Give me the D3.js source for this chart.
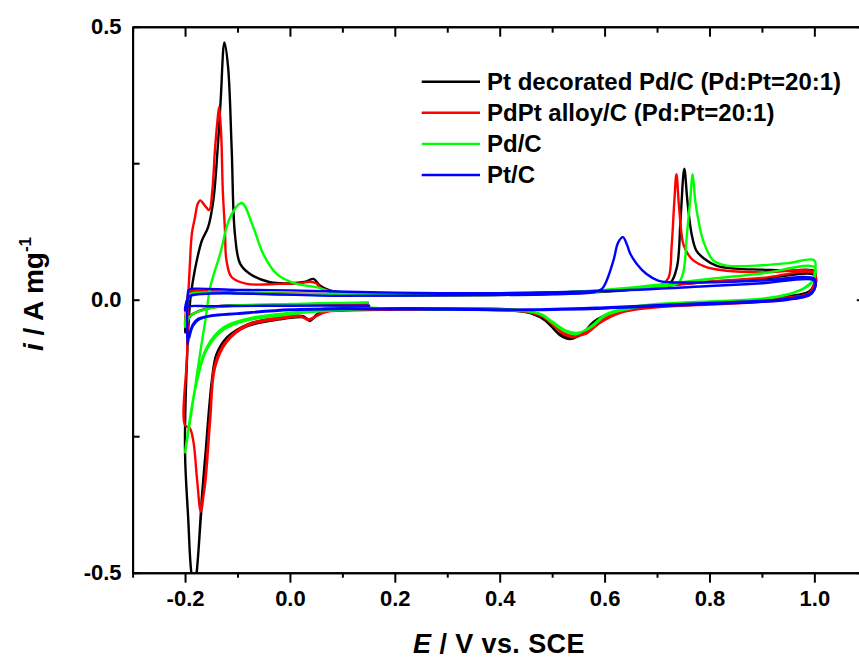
<!DOCTYPE html>
<html>
<head>
<meta charset="utf-8">
<script src="https://cdn.jsdelivr.net/npm/d3@7"></script>
<style>
  body { margin: 0; background: #fff; }
  svg { display: block; overflow: hidden; }
  text { font-family: "Liberation Sans", Arial, sans-serif; font-weight: bold; fill: #000; }
</style>
</head>
<body>
<div id="chart"></div>
<script>
// ---- data (E in V vs. SCE, i in A mg-1), each curve traced point by point ----
const xTicks = [-0.2, 0.0, 0.2, 0.4, 0.6, 0.8, 1.0];
const xMinorTicks = [-0.3, -0.1, 0.1, 0.3, 0.5, 0.7, 0.9];
const yTicks = [-0.5, 0.0, 0.5];
const yMinorTicks = [-0.25, 0.25];

const seriesNames = [
  "Pt decorated Pd/C (Pd:Pt=20:1)",
  "PdPt alloy/C (Pd:Pt=20:1)",
  "Pd/C",
  "Pt/C",
];

const ptDecoratedPdC = [
  [0.15, -0.006], [0.05, -0.008], [-0.05, -0.01], [-0.15, -0.014], [-0.19, -0.03], [-0.2, -0.06],
  [-0.197, -0.02], [-0.193, 0.01], [-0.185, 0.014], [-0.1, 0.012], [0.0, 0.01], [0.2, 0.008],
  [0.4, 0.009], [0.55, 0.012], [0.65, 0.018], [0.7, 0.024], [0.725, 0.03], [0.738, 0.06],
  [0.745, 0.15], [0.752, 0.24], [0.758, 0.18], [0.766, 0.12], [0.775, 0.09], [0.79, 0.075],
  [0.814, 0.062], [0.85, 0.057], [0.9, 0.055], [0.95, 0.053], [1.0, 0.052],
  [1.0, 0.03], [0.99, 0.015], [0.95, 0.006], [0.9, 0.0], [0.8, -0.005], [0.7, -0.01],
  [0.62, -0.022], [0.58, -0.04], [0.56, -0.06], [0.535, -0.072], [0.515, -0.065], [0.5, -0.05],
  [0.48, -0.033], [0.46, -0.024], [0.42, -0.018], [0.3, -0.016], [0.15, -0.016], [0.07, -0.018],
  [0.05, -0.028], [0.038, -0.039], [0.025, -0.03], [-0.02, -0.033], [-0.08, -0.045],
  [-0.12, -0.069], [-0.14, -0.1], [-0.149, -0.149], [-0.159, -0.259], [-0.168, -0.363],
  [-0.176, -0.48], [-0.182, -0.53], [-0.188, -0.5], [-0.194, -0.4], [-0.2, -0.28],
  [-0.196, -0.1], [-0.19, 0.0], [-0.184, 0.04], [-0.178, 0.07], [-0.168, 0.108], [-0.156, 0.133],
  [-0.146, 0.182], [-0.138, 0.274], [-0.132, 0.366], [-0.125, 0.471], [-0.118, 0.427],
  [-0.111, 0.274], [-0.105, 0.121], [-0.095, 0.066], [-0.076, 0.047], [-0.038, 0.032],
  [0.0, 0.03], [0.03, 0.033], [0.045, 0.038], [0.057, 0.026], [0.076, 0.017], [0.12, 0.012],
  [0.3, 0.01], [0.5, 0.013], [0.6, 0.017], [0.7, 0.024], [0.8, 0.033], [0.9, 0.038], [1.0, 0.045],
  [1.0, 0.02], [0.985, 0.008], [0.9, -0.003], [0.8, -0.007], [0.7, -0.012], [0.62, -0.024],
  [0.58, -0.043], [0.555, -0.062], [0.53, -0.068], [0.51, -0.06], [0.49, -0.04], [0.46, -0.025],
  [0.42, -0.02], [0.3, -0.018], [0.15, -0.018], [0.07, -0.021], [0.05, -0.03], [0.04, -0.037],
  [0.025, -0.032], [-0.02, -0.036], [-0.08, -0.048], [-0.12, -0.072], [-0.14, -0.105],
  [-0.15, -0.16], [-0.16, -0.27], [-0.17, -0.4], [-0.178, -0.5], [-0.183, -0.53],
];

const pdPtAlloyC = [
  [0.15, -0.008], [0.0, -0.01], [-0.15, -0.015], [-0.19, -0.03], [-0.2, -0.05],
  [-0.197, -0.01], [-0.193, 0.012], [-0.185, 0.016], [-0.1, 0.013], [0.1, 0.01], [0.3, 0.008],
  [0.5, 0.011], [0.6, 0.016], [0.68, 0.022], [0.71, 0.028], [0.722, 0.04], [0.728, 0.1],
  [0.733, 0.18], [0.737, 0.23], [0.742, 0.17], [0.75, 0.102], [0.76, 0.082], [0.769, 0.072],
  [0.795, 0.059], [0.833, 0.053], [0.9, 0.05], [1.0, 0.05],
  [1.0, 0.03], [0.99, 0.012], [0.95, 0.004], [0.9, -0.002], [0.8, -0.007], [0.7, -0.012],
  [0.63, -0.022], [0.59, -0.04], [0.565, -0.06], [0.54, -0.069], [0.52, -0.062], [0.5, -0.045],
  [0.48, -0.03], [0.46, -0.022], [0.42, -0.018], [0.3, -0.016], [0.15, -0.017], [0.07, -0.02],
  [0.05, -0.03], [0.035, -0.037], [0.02, -0.03], [-0.02, -0.033], [-0.08, -0.045],
  [-0.121, -0.075], [-0.143, -0.118], [-0.152, -0.21], [-0.162, -0.333], [-0.17, -0.388],
  [-0.177, -0.33], [-0.184, -0.26], [-0.191, -0.235], [-0.2, -0.23],
  [-0.196, -0.1], [-0.194, 0.0], [-0.191, 0.06], [-0.187, 0.121], [-0.181, 0.151],
  [-0.176, 0.175], [-0.171, 0.182], [-0.162, 0.172], [-0.154, 0.164], [-0.148, 0.2],
  [-0.143, 0.274], [-0.138, 0.33], [-0.135, 0.353], [-0.131, 0.3], [-0.128, 0.2],
  [-0.124, 0.13], [-0.121, 0.072], [-0.111, 0.041], [-0.082, 0.029], [-0.019, 0.029],
  [0.02, 0.03], [0.038, 0.033], [0.05, 0.03], [0.057, 0.023], [0.08, 0.015], [0.12, 0.012],
  [0.3, 0.01], [0.5, 0.013], [0.6, 0.017], [0.7, 0.025], [0.8, 0.033], [0.9, 0.04], [1.0, 0.048],
  [1.0, 0.022], [0.985, 0.008], [0.9, -0.004], [0.8, -0.009], [0.7, -0.014], [0.63, -0.024],
  [0.59, -0.043], [0.565, -0.062], [0.54, -0.066], [0.52, -0.06], [0.5, -0.043], [0.48, -0.03],
  [0.45, -0.022], [0.3, -0.018], [0.15, -0.019], [0.07, -0.022], [0.05, -0.03], [0.035, -0.036],
  [0.02, -0.031], [-0.02, -0.035], [-0.08, -0.047], [-0.121, -0.078], [-0.143, -0.125],
  [-0.152, -0.22], [-0.162, -0.34], [-0.17, -0.385],
];

const pdC = [
  [0.15, -0.005], [0.0, -0.008], [-0.15, -0.015], [-0.19, -0.03], [-0.2, -0.05],
  [-0.197, -0.02], [-0.192, 0.008], [-0.185, 0.012], [-0.1, 0.012], [0.1, 0.01], [0.3, 0.008],
  [0.5, 0.011], [0.6, 0.016], [0.7, 0.024], [0.74, 0.03], [0.75, 0.05], [0.757, 0.12],
  [0.763, 0.18], [0.768, 0.23], [0.773, 0.18], [0.78, 0.14], [0.788, 0.108], [0.807, 0.072],
  [0.833, 0.0625], [0.9, 0.063], [0.95, 0.067], [1.0, 0.072],
  [1.0, 0.045], [0.995, 0.032], [0.98, 0.02], [0.95, 0.01], [0.9, 0.002], [0.8, -0.003],
  [0.7, -0.008], [0.64, -0.016], [0.6, -0.028], [0.575, -0.048], [0.547, -0.063],
  [0.525, -0.058], [0.5, -0.042], [0.48, -0.028], [0.45, -0.02], [0.4, -0.017], [0.2, -0.017],
  [0.089, -0.012], [0.045, -0.02], [-0.019, -0.026], [-0.082, -0.035], [-0.127, -0.051],
  [-0.159, -0.088], [-0.178, -0.149], [-0.197, -0.259], [-0.2, -0.28],
  [-0.19, -0.22], [-0.18, -0.155], [-0.17, -0.09], [-0.16, -0.03], [-0.152, 0.023],
  [-0.133, 0.084], [-0.114, 0.151], [-0.092, 0.177], [-0.07, 0.133], [-0.051, 0.084],
  [-0.025, 0.047], [0.013, 0.029], [0.051, 0.023], [0.083, 0.013], [0.15, 0.01], [0.3, 0.01],
  [0.5, 0.013], [0.6, 0.018], [0.7, 0.027], [0.8, 0.038], [0.9, 0.048], [1.0, 0.06],
  [1.0, 0.04], [0.99, 0.028], [0.97, 0.016], [0.9, 0.0], [0.8, -0.005], [0.7, -0.01],
  [0.64, -0.018], [0.6, -0.03], [0.575, -0.05], [0.547, -0.061], [0.525, -0.056], [0.5, -0.04],
  [0.48, -0.027], [0.45, -0.021], [0.3, -0.018], [0.15, -0.017], [0.045, -0.022],
  [-0.019, -0.029], [-0.082, -0.038], [-0.127, -0.055], [-0.159, -0.092], [-0.178, -0.152],
  [-0.197, -0.262],
];

const ptC = [
  [0.153, -0.011], [0.0, -0.011], [-0.15, -0.012], [-0.195, -0.013], [-0.2, -0.02],
  [-0.196, 0.0], [-0.19, 0.007], [0.1, 0.007], [0.3, 0.008], [0.5, 0.01], [0.58, 0.014],
  [0.595, 0.02], [0.604, 0.035], [0.617, 0.072], [0.626, 0.105], [0.635, 0.1145], [0.643, 0.1],
  [0.649, 0.084], [0.661, 0.066], [0.68, 0.047], [0.702, 0.035], [0.725, 0.032], [0.8, 0.032],
  [0.9, 0.035], [1.0, 0.038],
  [1.0, 0.02], [0.99, 0.01], [0.95, 0.002], [0.9, -0.002], [0.8, -0.006], [0.6, -0.014],
  [0.45, -0.018], [0.3, -0.017], [0.1, -0.016], [0.0, -0.018], [-0.1, -0.025], [-0.15, -0.029],
  [-0.175, -0.035], [-0.185, -0.045], [-0.192, -0.065], [-0.195, -0.081],
  [-0.196, -0.05], [-0.195, 0.0], [-0.193, 0.018], [-0.185, 0.02], [-0.1, 0.018], [0.0, 0.017],
  [0.2, 0.013], [0.4, 0.012], [0.6, 0.016], [0.8, 0.025], [0.9, 0.03], [1.0, 0.035],
  [1.0, 0.018], [0.99, 0.008], [0.95, 0.0], [0.9, -0.004], [0.8, -0.008], [0.6, -0.016],
  [0.45, -0.019], [0.3, -0.018], [0.1, -0.017], [0.0, -0.019], [-0.1, -0.026], [-0.15, -0.03],
  [-0.175, -0.037], [-0.185, -0.048], [-0.192, -0.07],
];

const seriesData = [ptDecoratedPdC, pdPtAlloyC, pdC, ptC];
const seriesColors = ["#000000", "#ff0000", "#00ff00", "#0000ff"];

// ---- layout ----
const chartWidth = 859;
const chartHeight = 662;
const plot = { left: 132.6, right: 866.8, top: 26.7, bottom: 572.7 };

const svg = d3
  .select("#chart")
  .append("svg")
  .attr("width", chartWidth)
  .attr("height", chartHeight);

// scales
const x = d3.scaleLinear().domain([-0.3, 1.1]).range([plot.left, plot.right]);
const y = d3.scaleLinear().domain([-0.5, 0.5]).range([plot.bottom, plot.top]);

const fmt = (d) => d.toFixed(1);

// clip for the curves
svg
  .append("defs")
  .append("clipPath")
  .attr("id", "plot-clip")
  .append("rect")
  .attr("x", plot.left)
  .attr("y", plot.top)
  .attr("width", plot.right - plot.left)
  .attr("height", plot.bottom - plot.top);

// curves
const line = d3
  .line()
  .x((d) => x(d[0]))
  .y((d) => y(d[1]))
  .curve(d3.curveCatmullRom.alpha(0.5));

svg
  .append("g")
  .attr("clip-path", "url(#plot-clip)")
  .selectAll("path")
  .data(seriesData)
  .enter()
  .append("path")
  .attr("d", line)
  .attr("fill", "none")
  .attr("stroke", (d, i) => seriesColors[i])
  .attr("stroke-width", 2.4)
  .attr("stroke-linejoin", "round");

// ---- axes ----
const styleAxis = (g) => {
  g.select(".domain").attr("stroke", "#000").attr("stroke-width", 2);
  g.selectAll(".tick line").attr("stroke", "#000").attr("stroke-width", 2);
  g.selectAll(".tick text").style("font-size", "22px");
};

// bottom (ticks outward)
svg
  .append("g")
  .attr("transform", `translate(0, ${plot.bottom})`)
  .call(d3.axisBottom(x).tickValues(xTicks).tickFormat(fmt).tickSizeInner(10).tickSizeOuter(0).tickPadding(8))
  .call(styleAxis);
svg
  .append("g")
  .attr("transform", `translate(0, ${plot.bottom})`)
  .call(d3.axisBottom(x).tickValues(xMinorTicks).tickFormat("").tickSizeInner(5).tickSizeOuter(0))
  .call(styleAxis);

// top (ticks inward)
svg
  .append("g")
  .attr("transform", `translate(0, ${plot.top})`)
  .call(d3.axisBottom(x).tickValues(xTicks).tickFormat("").tickSizeInner(10).tickSizeOuter(0))
  .call(styleAxis);
svg
  .append("g")
  .attr("transform", `translate(0, ${plot.top})`)
  .call(d3.axisBottom(x).tickValues(xMinorTicks).tickFormat("").tickSizeInner(6).tickSizeOuter(0))
  .call(styleAxis);

// left (ticks inward, labels outside)
svg
  .append("g")
  .attr("transform", `translate(${plot.left}, 0)`)
  .call(d3.axisLeft(y).tickValues(yTicks).tickFormat(fmt).tickSizeInner(-7).tickSizeOuter(0).tickPadding(11))
  .call(styleAxis);
svg
  .append("g")
  .attr("transform", `translate(${plot.left}, 0)`)
  .call(d3.axisLeft(y).tickValues(yMinorTicks).tickFormat("").tickSizeInner(-7).tickSizeOuter(0))
  .call(styleAxis);

// right (ticks inward)
svg
  .append("g")
  .attr("transform", `translate(${plot.right}, 0)`)
  .call(d3.axisLeft(y).tickValues(yTicks).tickFormat("").tickSizeInner(10).tickSizeOuter(0))
  .call(styleAxis);
svg
  .append("g")
  .attr("transform", `translate(${plot.right}, 0)`)
  .call(d3.axisLeft(y).tickValues(yMinorTicks).tickFormat("").tickSizeInner(6).tickSizeOuter(0))
  .call(styleAxis);

// ---- axis titles ----
const xTitle = svg
  .append("text")
  .attr("x", 499)
  .attr("y", 653)
  .attr("text-anchor", "middle")
  .style("font-size", "27px")
  .style("letter-spacing", "0.4px");
xTitle.append("tspan").style("font-style", "italic").text("E");
xTitle.append("tspan").text(" / V vs. SCE");

const yTitle = svg
  .append("text")
  .attr("transform", `translate(43, 294) rotate(-90)`)
  .attr("text-anchor", "middle")
  .style("font-size", "28px");
yTitle.append("tspan").style("font-style", "italic").text("i");
yTitle.append("tspan").text(" / A mg");
yTitle.append("tspan").attr("dy", -12).style("font-size", "17px").text("-1");

// ---- legend ----
const legend = svg
  .append("g")
  .selectAll("g")
  .data(seriesNames)
  .enter()
  .append("g")
  .attr("transform", (d, i) => `translate(0, ${81.7 + i * 31.1})`);

legend
  .append("line")
  .attr("x1", 421.7)
  .attr("x2", 480)
  .attr("stroke", (d, i) => seriesColors[i])
  .attr("stroke-width", 2.4);

legend
  .append("text")
  .attr("x", 487)
  .attr("y", 8)
  .style("font-size", "24px")
  .text((d) => d);
</script>
</body>
</html>
